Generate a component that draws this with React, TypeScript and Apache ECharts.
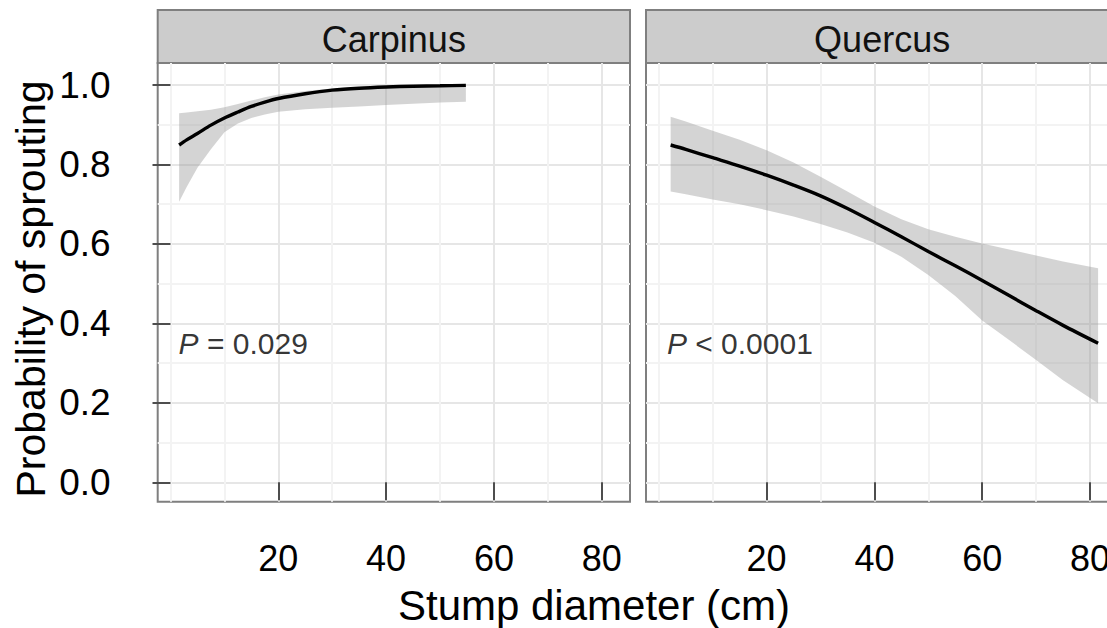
import { useEffect, useRef } from "react";
import * as echarts from "echarts";

// ---- data ----
const panels = ["Carpinus", "Quercus"];
const pLabels = ["= 0.029", "< 0.0001"];

const carpinusX = [1.6, 3, 5, 7.5, 10, 12.5, 15, 17.5, 20, 25, 30, 35, 40, 45, 50, 54.8];
const carpinusFit = [0.849, 0.862, 0.878, 0.899, 0.917, 0.932, 0.946, 0.957, 0.966, 0.978, 0.987, 0.992, 0.995, 0.997, 0.998, 0.999];
const carpinusLower = [0.706, 0.743, 0.792, 0.838, 0.881, 0.903, 0.917, 0.926, 0.933, 0.939, 0.943, 0.946, 0.95, 0.953, 0.956, 0.958];
const carpinusUpper = [0.929, 0.931, 0.934, 0.938, 0.944, 0.952, 0.961, 0.969, 0.976, 0.985, 0.991, 0.995, 0.997, 0.998, 0.999, 0.9995];

const quercusX = [2.2, 5, 10, 15, 20, 25, 30, 35, 40, 45, 50, 55, 60, 65, 70, 75, 81.5];
const quercusFit = [0.849, 0.838, 0.817, 0.796, 0.773, 0.748, 0.721, 0.689, 0.654, 0.618, 0.581, 0.545, 0.508, 0.47, 0.432, 0.395, 0.35];
const quercusLower = [0.732, 0.725, 0.712, 0.7, 0.685, 0.669, 0.65, 0.629, 0.603, 0.568, 0.522, 0.469, 0.407, 0.358, 0.308, 0.257, 0.199];
const quercusUpper = [0.92, 0.908, 0.885, 0.862, 0.836, 0.805, 0.769, 0.732, 0.694, 0.662, 0.637, 0.618, 0.601, 0.586, 0.571, 0.556, 0.539];

const xTicks = [20, 40, 60, 80];
const xMinor = [0, 10, 30, 50, 70];
const yTicks = [0, 0.2, 0.4, 0.6, 0.8, 1.0];
const yMinor = [0.1, 0.3, 0.5, 0.7, 0.9];

const annotX = 1.5;
const annotY = 0.35;

const FONT = "'Liberation Sans', Arial, sans-serif";

export default function App() {
  const ref = useRef<HTMLDivElement>(null);

  useEffect(() => {
    if (!ref.current) return;
    document.body.style.margin = "0";
    const chart = echarts.init(ref.current, null, { renderer: "svg" });

    const X_MIN = -2.375;
    const X_MAX = 85.25;
    const Y_MIN = -0.0488;
    const Y_MAX = 1.0554;
    const gridTop = 63;
    const gridH = 438.7;
    const gridW = 472.3;
    const gridLefts = [157.7, 646];

    const sets = [
      { x: carpinusX, fit: carpinusFit, lo: carpinusLower, hi: carpinusUpper },
      { x: quercusX, fit: quercusFit, lo: quercusLower, hi: quercusUpper },
    ];

    const grid: any[] = gridLefts.map((l) => ({
      left: l,
      top: gridTop,
      width: gridW,
      height: gridH,
      show: true,
      borderColor: "#7f7f7f",
      borderWidth: 2,
      backgroundColor: "transparent",
      containLabel: false,
      outerBoundsMode: "none",
    }));

    const xAxis: any[] = [];
    const yAxis: any[] = [];
    // minor axes first (index 0,1 -> grids 0,1), then major (2,3)
    [0, 1].forEach((g) => {
      xAxis.push({
        type: "value",
        gridIndex: g,
        min: X_MIN,
        max: X_MAX,
        position: "bottom",
        axisLine: { show: false },
        axisTick: { show: false, customValues: xMinor },
        axisLabel: { show: false, customValues: xMinor },
        splitLine: { show: true, lineStyle: { color: "#f3f3f3", width: 2 } },
      });
      yAxis.push({
        type: "value",
        gridIndex: g,
        min: Y_MIN,
        max: Y_MAX,
        position: "left",
        axisLine: { show: false },
        axisTick: { show: false, customValues: yMinor },
        axisLabel: { show: false, customValues: yMinor },
        splitLine: { show: true, lineStyle: { color: "#f3f3f3", width: 2 } },
      });
    });
    [0, 1].forEach((g) => {
      xAxis.push({
        type: "value",
        gridIndex: g,
        min: X_MIN,
        max: X_MAX,
        position: "bottom",
        axisLine: { show: false },
        axisTick: {
          show: true,
          customValues: xTicks,
          length: 18,
          lineStyle: { color: "#4d4d4d", width: 2 },
        },
        axisLabel: {
          show: true,
          customValues: xTicks,
          fontSize: 36,
          color: "#000",
          fontFamily: FONT,
          margin: 39,
        },
        splitLine: { show: true, lineStyle: { color: "#e6e6e6", width: 2 } },
      });
      yAxis.push({
        type: "value",
        gridIndex: g,
        min: Y_MIN,
        max: Y_MAX,
        position: "left",
        axisLine: { show: false },
        axisTick: {
          show: g === 0,
          customValues: yTicks,
          length: 18,
          lineStyle: { color: "#4d4d4d", width: 2 },
        },
        axisLabel: {
          show: g === 0,
          customValues: yTicks,
          fontSize: 37,
          color: "#000",
          fontFamily: FONT,
          margin: 47,
          formatter: (v: number) => v.toFixed(1),
        },
        splitLine: { show: true, lineStyle: { color: "#e6e6e6", width: 2 } },
      });
    });

    const series: any[] = [];
    sets.forEach((s, g) => {
      const axisIdx = g + 2;
      series.push({
        type: "custom",
        coordinateSystem: "cartesian2d",
        xAxisIndex: axisIdx,
        yAxisIndex: axisIdx,
        data: s.x.map((x, i) => [x, s.lo[i], s.hi[i]]),
        encode: { x: 0, y: [1, 2] },
        silent: true,
        z: 2,
        renderItem: (params: any, api: any) => {
          if (params.dataIndex !== 0) return null;
          const up = s.x.map((x, i) => api.coord([x, s.hi[i]]));
          const dn = s.x.map((x, i) => api.coord([x, s.lo[i]])).reverse();
          return {
            type: "polygon",
            shape: { points: up.concat(dn) },
            style: { fill: "rgba(153,153,153,0.42)" },
          };
        },
      });
      series.push({
        type: "line",
        xAxisIndex: axisIdx,
        yAxisIndex: axisIdx,
        data: s.x.map((x, i) => [x, s.fit[i]]),
        symbol: "none",
        smooth: 0.3,
        lineStyle: { color: "#000", width: 3.4 },
        silent: true,
        z: 3,
      });
      series.push({
        type: "scatter",
        xAxisIndex: axisIdx,
        yAxisIndex: axisIdx,
        data: [[annotX, annotY]],
        symbolSize: 1,
        itemStyle: { color: "rgba(0,0,0,0)" },
        silent: true,
        z: 4,
        label: {
          show: true,
          position: "inside",
          align: "left",
          verticalAlign: "middle",
          formatter: "{i|P}{n| " + pLabels[g] + "}",
          rich: {
            i: { fontStyle: "italic", fontSize: 30, color: "#000", fontFamily: FONT },
            n: { fontSize: 30, color: "#000", fontFamily: FONT },
          },
        },
      });
    });

    const graphic: any[] = [];
    gridLefts.forEach((l, g) => {
      graphic.push({
        type: "rect",
        shape: { x: l, y: 10, width: gridW, height: 53 },
        style: { fill: "#cccccc", stroke: "#7f7f7f", lineWidth: 2 },
        silent: true,
      });
      graphic.push({
        type: "text",
        x: l + gridW / 2,
        y: 39,
        style: {
          text: panels[g],
          fontSize: 36,
          fontFamily: FONT,
          fill: "#111",
          align: "center",
          verticalAlign: "middle",
        },
        silent: true,
      });
    });
    graphic.push({
      type: "text",
      x: 594,
      y: 605,
      style: {
        text: "Stump diameter (cm)",
        fontSize: 42,
        fontFamily: FONT,
        fill: "#000",
        align: "center",
        verticalAlign: "middle",
      },
      silent: true,
    });
    graphic.push({
      type: "text",
      x: 31,
      y: 289,
      rotation: Math.PI / 2,
      style: {
        text: "Probability of sprouting",
        fontSize: 41,
        fontFamily: FONT,
        fill: "#000",
        align: "center",
        verticalAlign: "middle",
      },
      silent: true,
    });

    chart.setOption({
      animation: false,
      backgroundColor: "#ffffff",
      textStyle: { fontFamily: FONT },
      grid,
      xAxis,
      yAxis,
      series,
      graphic,
    });

    return () => chart.dispose();
  }, []);

  return (
    <div
      ref={ref}
      style={{ position: "fixed", left: 0, top: 0, width: 1107, height: 628 }}
    />
  );
}
